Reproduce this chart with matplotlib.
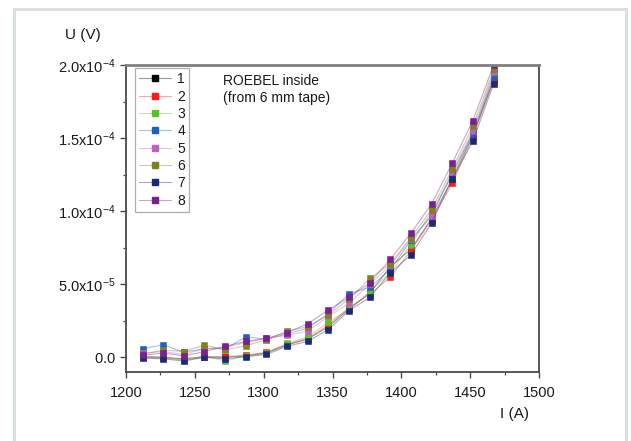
import matplotlib
matplotlib.use("Agg")
import matplotlib.pyplot as plt
from matplotlib.patches import Rectangle
from matplotlib.lines import Line2D
from matplotlib.ticker import MultipleLocator, FixedLocator, FixedFormatter

plt.rcParams['font.family'] = ['Liberation Sans', 'DejaVu Sans']

# ---- data ----
current = [1212, 1227, 1242, 1257, 1272, 1287, 1302, 1317, 1332,
           1347, 1362, 1377, 1392, 1407, 1422, 1437, 1452, 1467]

series_labels = ['1', '2', '3', '4', '5', '6', '7', '8']
# voltages in units of 1e-6 V
s1 = [0.5, 0, -1, 0.5, 0, 1, 3, 8.5, 12.5, 21, 33, 44, 62, 74, 95, 122, 152, 190]
s2 = [0, -0.5, -1.5, 0, 0.5, 1.5, 3.5, 9, 13, 22, 34, 43, 55, 73, 94, 119, 151, 189]
s3 = [0.5, 0.5, -2, 1, -2.5, 1, 3, 9.5, 14, 24, 33, 45, 58, 77, 100, 124, 154, 193]
s4 = [6, 8.5, 3.5, 6, 6, 14, 12.5, 16, 20, 30, 43.5, 48, 60, 80, 97, 126, 153, 192]
s5 = [3, 4, 2, 6, 7, 10, 13, 15, 18, 28, 37, 50, 63, 81, 97, 127, 155, 195]
s6 = [2, 5, 4, 8.5, 5, 8, 12, 18, 21, 29, 40, 54, 64, 82, 101, 129, 158, 197]
s7 = [-0.5, -1, -2.5, 0, -1, 0.5, 2, 7.5, 11, 19, 32, 41, 58, 70, 92, 122, 148, 187]
s8 = [1.5, 3, 1, 4, 7.5, 11, 13, 17, 23, 32.5, 41, 51, 67, 85, 105, 133, 162, 200]
series = [s1, s2, s3, s4, s5, s6, s7, s8]

colors = ['#000000', '#ff1a1a', '#5cc02a', '#1f5fc0',
          '#c060c0', '#808020', '#1a2a78', '#7a2090']

ytick_values = [0.0, 5e-5, 1e-4, 1.5e-4, 2e-4]
ytick_labels = [r'$\mathregular{0.0}$', r'$\mathregular{5.0x10^{-5}}$',
                r'$\mathregular{1.0x10^{-4}}$', r'$\mathregular{1.5x10^{-4}}$',
                r'$\mathregular{2.0x10^{-4}}$']
xtick_values = [1200, 1250, 1300, 1350, 1400, 1450, 1500]

W, H = 631, 441
fig = plt.figure(figsize=(W / 100, H / 100), dpi=100)
fig.patch.set_facecolor('white')

# outer light frame
fig.add_artist(Rectangle((13.5 / W, -0.05), (626 - 13.5) / W, (441 - 8.5) / H + 0.05,
                         transform=fig.transFigure, fill=False,
                         edgecolor='#d9dfde', linewidth=2.2))

ax = fig.add_axes([126 / W, (H - 372) / H, (539 - 126) / W, (372 - 65) / H])

for vals, c in zip(series, colors):
    yv = [v * 1e-6 for v in vals]
    ax.plot(current, yv, '-', color=c, lw=0.8, alpha=0.4)
    ax.plot(current, yv, 's', color=c, ms=4.8, mec=c, mew=0.4)

ax.set_xlim(1200, 1500)
ax.set_ylim(-1.0e-5, 2.0e-4)

ax.xaxis.set_major_locator(FixedLocator(xtick_values))
ax.xaxis.set_minor_locator(MultipleLocator(25))
ax.yaxis.set_major_locator(FixedLocator(ytick_values))
ax.yaxis.set_major_formatter(FixedFormatter(ytick_labels))
ax.yaxis.set_minor_locator(MultipleLocator(2.5e-5))

for s in ax.spines.values():
    s.set_color('#4a4a4a')
    s.set_linewidth(1.3)
ax.spines['top'].set_color('#808080')
ax.spines['top'].set_linewidth(2.0)

ax.tick_params(which='major', direction='out', length=4, width=1, color='#4a4a4a',
               labelsize=10.5, labelcolor='#1a1a1a')
ax.tick_params(axis='x', which='major', pad=6)
ax.tick_params(axis='y', which='major', pad=3.5)
ax.tick_params(which='minor', direction='out', length=2.2, width=0.9, color='#4a4a4a')
ax.tick_params(top=False, right=False, which='both')

# legend: faded line with solid marker overlaid
handles = []
for c in colors:
    ln = Line2D([0, 1], [0, 0], color=c, lw=0.8, alpha=0.4)
    mk = Line2D([0], [0], linestyle='none', marker='s', ms=4.8, mfc=c, mec=c)
    handles.append((ln, mk))
leg = ax.legend(handles=handles, labels=series_labels, loc='upper left',
                bbox_to_anchor=(0.022, 0.99),
                borderaxespad=0, fontsize=10, frameon=True, fancybox=False,
                edgecolor='#9a9a9a', handlelength=2.3, handletextpad=0.45,
                labelspacing=0.24, borderpad=0.3, labelcolor='#1a1a1a')
leg.get_frame().set_linewidth(0.9)

ax.text(0.235, 0.972, 'ROEBEL inside\n(from 6 mm tape)', transform=ax.transAxes,
        ha='left', va='top', fontsize=10, linespacing=1.3, color='#1a1a1a')

fig.text(83 / W, 1 - 35 / H, 'U (V)', ha='center', va='center', fontsize=11, color='#1a1a1a')
fig.text(515 / W, 1 - 414 / H, 'I (A)', ha='center', va='center', fontsize=11, color='#1a1a1a')

fig.savefig('out.png', dpi=100, facecolor='white')
